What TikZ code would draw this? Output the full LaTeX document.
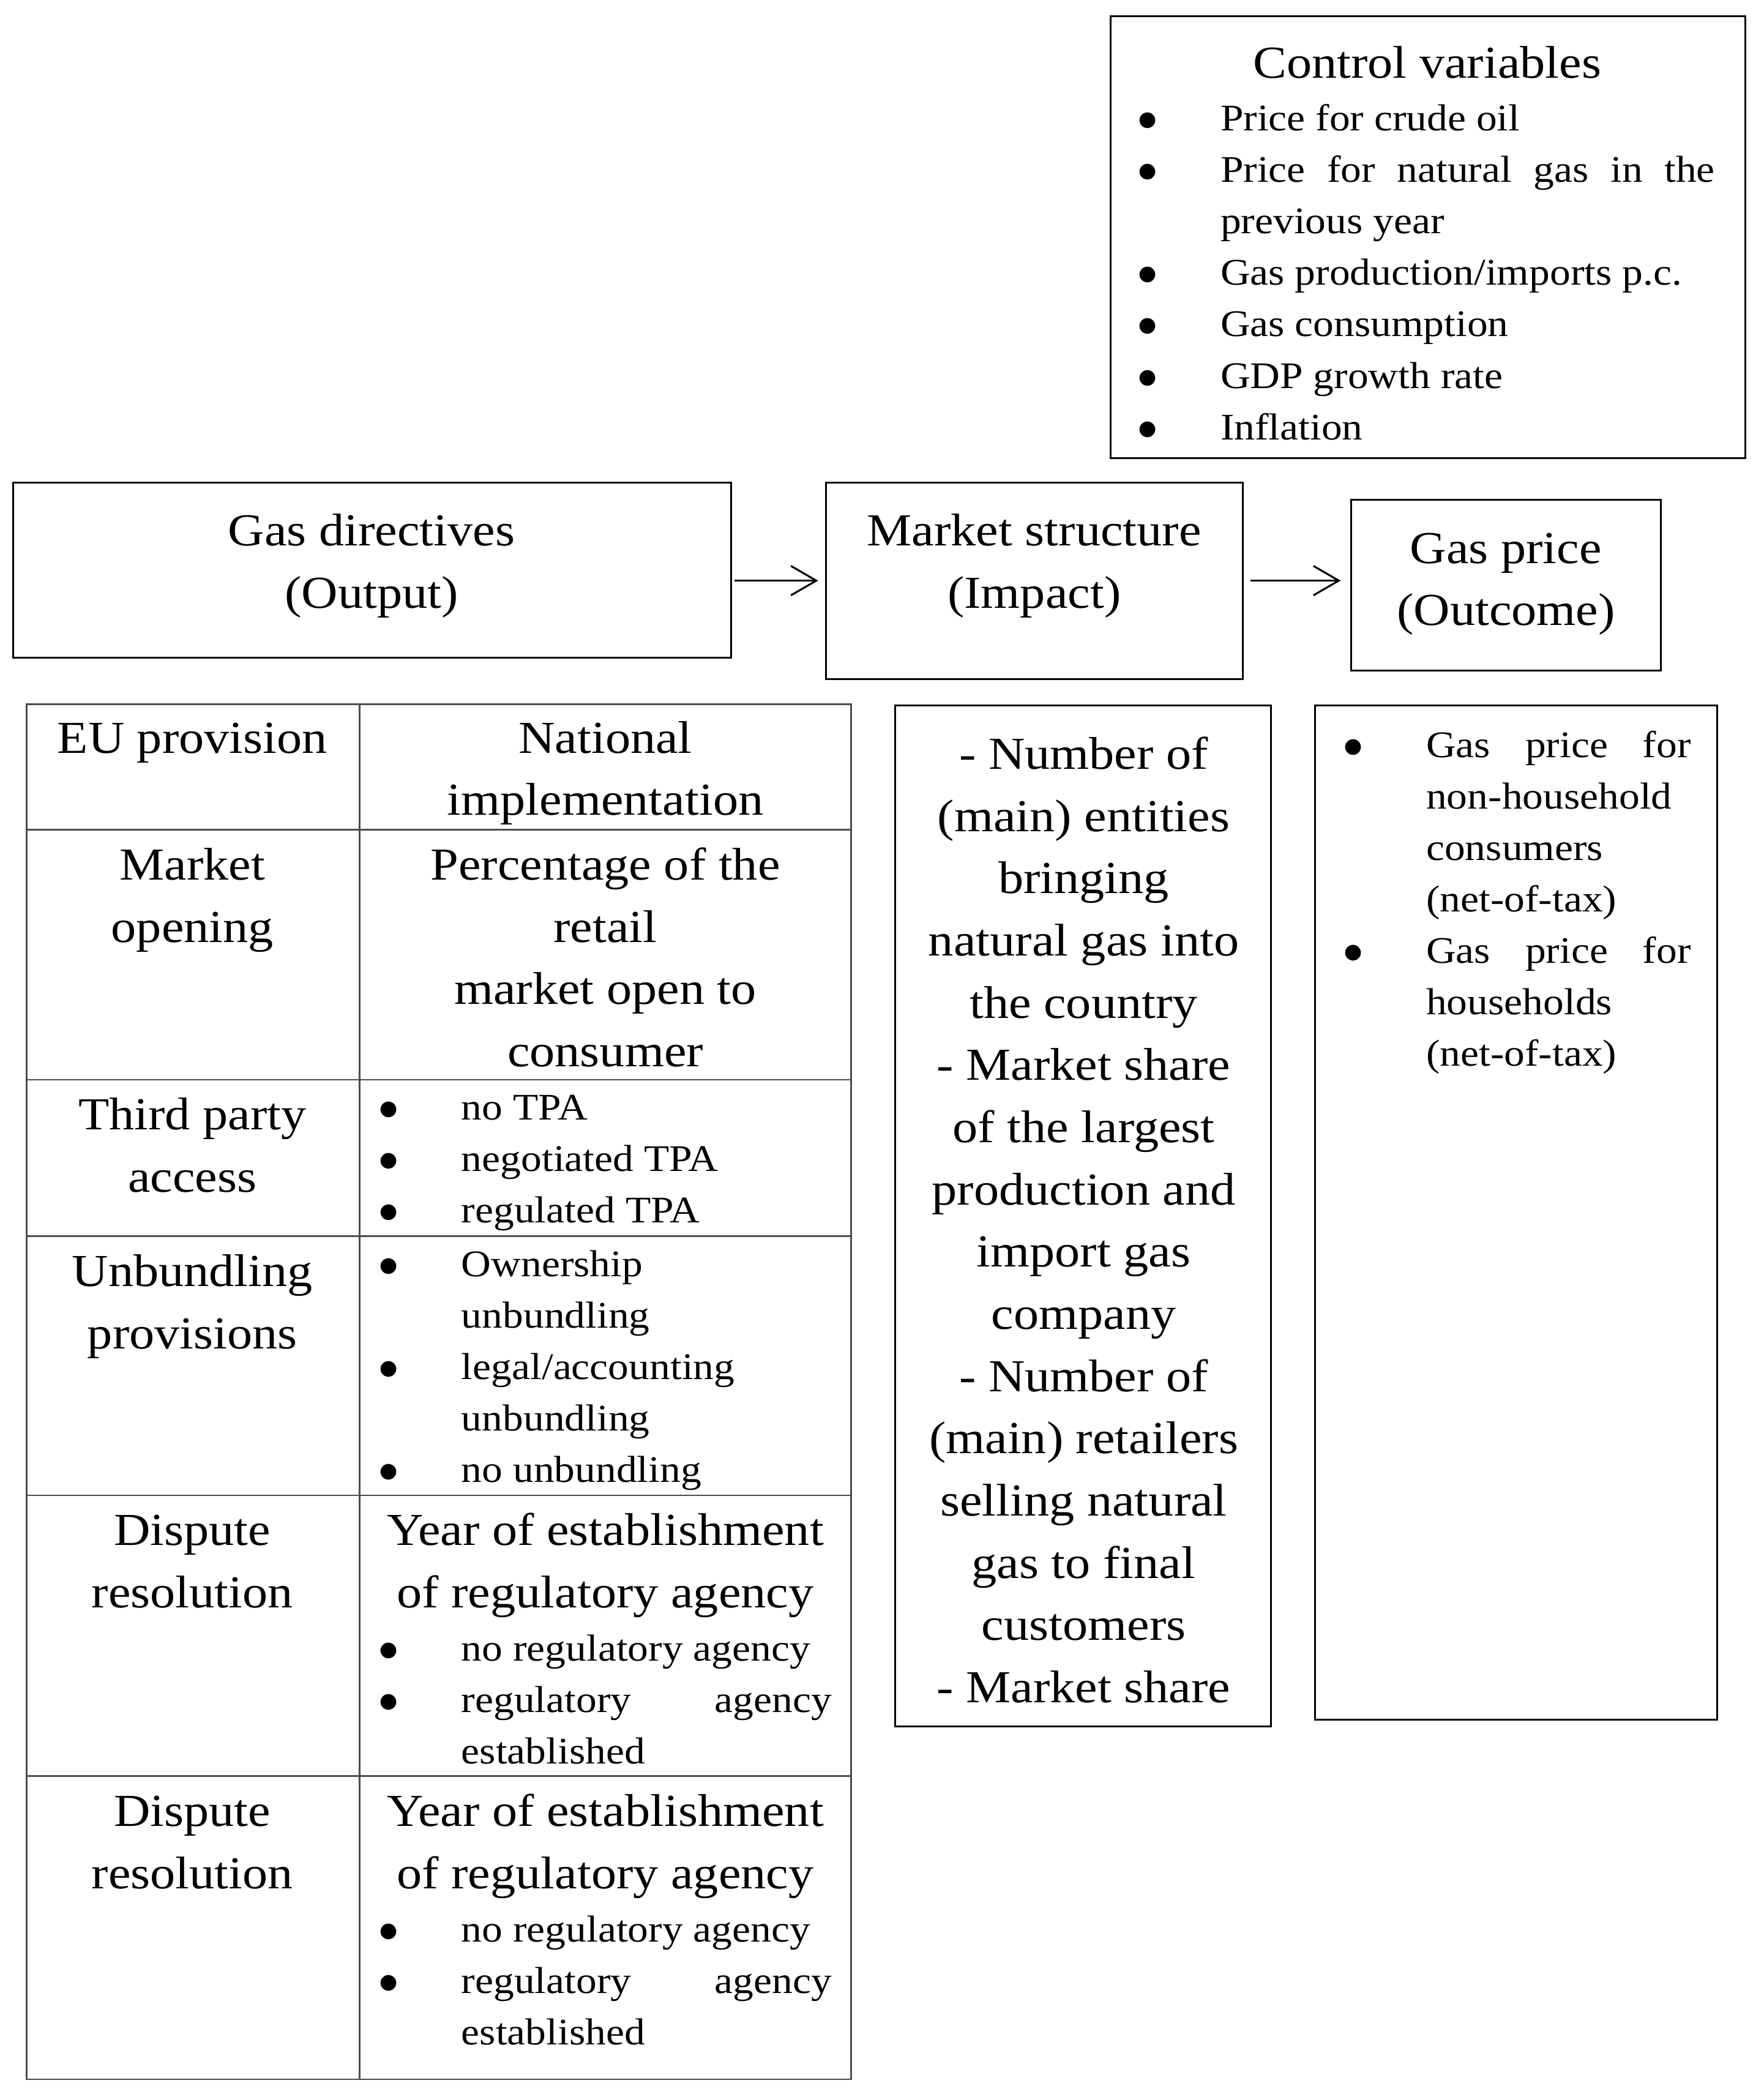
\documentclass[tikz,border=0pt]{standalone}
\usepackage{fontspec}
\setmainfont{Liberation Serif}[FakeStretch=1.1]
\usepackage{tikz}
\usetikzlibrary{arrows.meta,fit}

\newcommand{\bul}{\makebox[12.4mm][l]{$\bullet$}}
\newcommand{\bulind}{\hspace*{12.4mm}}

\begin{document}
\begin{tikzpicture}[x=0.2mm,y=-0.2mm,
    box/.style={draw,line width=0.8pt,inner sep=0pt},
    tabline/.style={draw=black!70,line width=0.7pt},
    big/.style={font=\fontsize{19.5}{26.5}\selectfont,inner sep=0pt,align=center,anchor=base},
    small/.style={font=\fontsize{16}{21.9}\selectfont,inner sep=0pt,align=left,anchor=base west},
    arr/.style={-{Straight Barb[length=3.8mm,width=4.4mm]},line width=0.8pt}]
\useasboundingbox (0,0) rectangle (1320,1567);

% boxes
\node[box,fit={(831,12) (1306,343)}] (ctrl) {};
\node[box,fit={(10,361) (547,492)}] (gd) {};
\node[box,fit={(618,361) (930,508)}] (ms) {};
\node[box,fit={(1011,374) (1243,502)}] (gp) {};
\node[box,fit={(670,528) (951,1292)}] (msl) {};
\node[box,fit={(984,528) (1285,1287)}] (gpl) {};
\node[tabline,inner sep=0pt,fit={(20,527) (637,1556)}] (tab) {};

% arrows
\draw[arr,shorten <=0.4mm,shorten >=1mm] (gd.east |- ms.west) -- (ms.west);
\draw[arr,shorten <=1mm,shorten >=1.4mm] (ms.east) -- (ms.east -| gp.west);

% table rules
\draw[tabline] (269,527) -- (269,1556);
\foreach \y in {621,808,925,1119,1329}
    \draw[tabline] (20,\y) -- (637,\y);

% control variables (nodes sit on the baseline of their last line)
\node[big] (ctrlT) at (1068,58.5) {Control variables};
\node[small] (ctrlL) at (851,328.9) {\bul Price for crude oil\\
    \bul\makebox[74mm][s]{Price for natural gas in the}\\
    \bulind previous year\\
    \bul Gas production/imports p.c.\\
    \bul Gas consumption\\
    \bul GDP growth rate\\
    \bul Inflation};

% chain
\node[big] (gdT) at (278,455.1) {Gas directives\\(Output)};
\node[big] (msT) at (774,455.1) {Market structure\\(Impact)};
\node[big] (gpT) at (1127,468.1) {Gas price\\(Outcome)};

% table
\node[big] (h1) at (144,563.5) {EU provision};
\node[big] (h2) at (453,610.1) {National\\implementation};
\node[big] (r1a) at (144,705.1) {Market\\opening};
\node[big] (r1b) at (453,798.2) {Percentage of the\\retail\\market open to\\consumer};
\node[big] (r2a) at (144,892.1) {Third party\\access};
\node[small] (r2b) at (283,915) {\bul no TPA\\ \bul negotiated TPA\\ \bul regulated TPA};
\node[big] (r3a) at (144,1009.1) {Unbundling\\provisions};
\node[small] (r3b) at (283,1109) {\bul Ownership\\ \bulind unbundling\\
    \bul legal/accounting\\ \bulind unbundling\\ \bul no unbundling};
\node[big] (r4a) at (144,1203.1) {Dispute\\resolution};
\node[big] (r4b) at (453,1203.1) {Year of establishment\\of regulatory agency};
\node[small] (r4c) at (283,1320) {\bul no regulatory agency\\
    \bul\makebox[55.4mm][s]{regulatory agency}\\ \bulind established};
\node[big] (r5a) at (144,1413.1) {Dispute\\resolution};
\node[big] (r5b) at (453,1413.1) {Year of establishment\\of regulatory agency};
\node[small] (r5c) at (283,1530) {\bul no regulatory agency\\
    \bul\makebox[55.4mm][s]{regulatory agency}\\ \bulind established};

% market structure list
\node[big] (msL) at (811,1274.1) {- Number of\\(main) entities\\bringing\\natural gas into\\the country\\
    - Market share\\of the largest\\production and\\import gas\\company\\
    - Number of\\(main) retailers\\selling natural\\gas to final\\customers\\- Market share};

% gas price list
\node[small] (gpL) at (1005,797.9) {\bul\makebox[39.6mm][s]{Gas price for}\\ \bulind non-household\\
    \bulind consumers\\ \bulind (net-of-tax)\\
    \bul\makebox[39.6mm][s]{Gas price for}\\ \bulind households\\ \bulind (net-of-tax)};
\end{tikzpicture}
\end{document}
